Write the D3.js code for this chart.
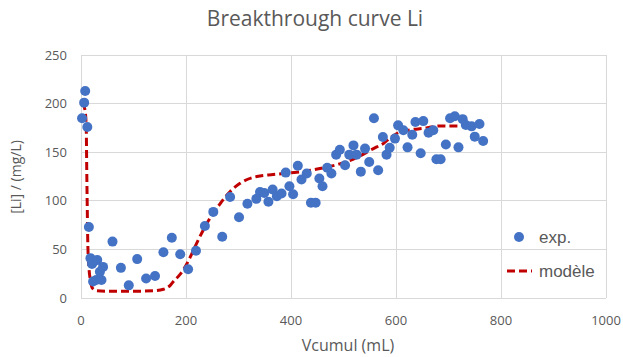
<!DOCTYPE html>
<html><head><meta charset="utf-8">
<script src="https://cdn.jsdelivr.net/npm/d3@7"></script>
<style>body{margin:0;background:#fff}svg{display:block}text{font-family:"Open Sans",Lato,sans-serif}</style>
</head><body><svg id="c" width="623" height="357"></svg>
<script>
const expX = [2,6,8,12,15,18,21,23,23,29,31,36,39,42,60,76,91,107,124,141,157,173,189,204,219,236,252,269,284,301,317,334,341,349,357,365,373,382,390,397,404,413,420,430,438,447,454,460,469,477,486,493,503,511,519,525,533,541,549,558,566,575,582,588,598,604,614,622,631,637,647,652,662,671,677,685,695,703,712,719,727,733,744,750,759,766];
const expY = [185,201,213,176,73,41,35,37,17,18.5,39,27,18.5,32,58,31,13,40,20,22.6,47,62,45,29.5,48.6,74,88.6,63,104,83,97,102,109,108,99,111.6,104.7,107.5,129,115,106.8,136,122,128,98,98,123,115,134,128,147.5,152.6,136.6,147.5,157,147.5,130,153.7,140,185,131.4,165.6,147.5,154.5,164,177.6,172.5,155,168,181,149,182,170,172.5,142.7,142.7,158,185,187,155,184,178,176.6,166,179,161.5];
const modelX = [0,5,8,10,11,12,13,15,18,22,30,50,100,140,157,170,176,185,195,208,220,233,249,265,285,303,335,366,398,430,462,493,519,557,576,592,608,627,658,684,718];
const modelY = [200,198,192,175,130,90,55,32,18,10,7.5,7,7,7.5,9,13,17,22,29,42,56,70,85,97,110,118,125,127,128.6,130.7,134,138,143,153.7,159,166,171,173,175,177,177];
const xTicks = [0,200,400,600,800,1000];
const yTicks = [0,50,100,150,200,250];
const title = "Breakthrough curve Li";
const xTitle = "Vcumul (mL)";
const yTitle = "[Li] / (mg/L)";
const legendLabels = ["exp.","modèle"];

const svg = d3.select("#c");
const x = d3.scaleLinear().domain([0,1000]).range([81,606]);
const y = d3.scaleLinear().domain([0,250]).range([298,55]);
const grey = "#595959", grid = "#D9D9D9";

svg.append("g").selectAll("line").data(yTicks).join("line")
  .attr("x1",x(0)).attr("x2",x(1000)).attr("y1",d=>y(d)).attr("y2",d=>y(d))
  .attr("stroke",grid).attr("stroke-width",1).attr("shape-rendering","crispEdges");
svg.append("g").selectAll("line").data(xTicks).join("line")
  .attr("y1",y(0)).attr("y2",y(250)).attr("x1",d=>x(d)).attr("x2",d=>x(d))
  .attr("stroke",grid).attr("stroke-width",1).attr("shape-rendering","crispEdges");

svg.append("g").selectAll("text").data(xTicks).join("text")
  .attr("x",d=>x(d)).attr("y",325).attr("text-anchor","middle")
  .attr("font-size",13).attr("fill",grey).text(d=>d);
svg.append("g").selectAll("text").data(yTicks).join("text")
  .attr("x",67).attr("y",d=>y(d)+4.5).attr("text-anchor","end")
  .attr("font-size",13).attr("fill",grey).text(d=>d);

svg.append("text").attr("x",315).attr("y",26).attr("text-anchor","middle")
  .attr("font-size",21).attr("fill",grey).text(title);
svg.append("text").attr("x",348).attr("y",351).attr("text-anchor","middle")
  .attr("font-size",16).attr("fill",grey).text(xTitle);
svg.append("text").attr("transform","translate(21,177) rotate(-90)").attr("text-anchor","middle")
  .attr("font-size",14).attr("fill",grey).text(yTitle);

const model = modelX.map((d,i)=>[d,modelY[i]]);
svg.append("path").datum(model)
  .attr("d",d3.line().x(d=>x(d[0])).y(d=>y(d[1])).curve(d3.curveMonotoneX))
  .attr("fill","none").attr("stroke","#C00000").attr("stroke-width",3)
  .attr("stroke-dasharray","8,4");

svg.append("g").selectAll("circle").data(expX.map((d,i)=>[d,expY[i]])).join("circle")
  .attr("cx",d=>x(d[0])).attr("cy",d=>y(d[1])).attr("r",5).attr("fill","#4472C4");

// legend
svg.append("circle").attr("cx",519).attr("cy",237).attr("r",5).attr("fill","#4472C4");
svg.append("line").attr("x1",507).attr("x2",532).attr("y1",271).attr("y2",271)
  .attr("stroke","#C00000").attr("stroke-width",3).attr("stroke-dasharray","8,4");
svg.append("text").attr("x",539).attr("y",243).attr("font-size",17)
  .attr("fill",grey).style("font-family","'Liberation Sans',Arial,sans-serif").text(legendLabels[0]);
svg.append("text").attr("x",539).attr("y",277).attr("font-size",17)
  .attr("fill",grey).style("font-family","'Liberation Sans',Arial,sans-serif").text(legendLabels[1]);
</script></body></html>
